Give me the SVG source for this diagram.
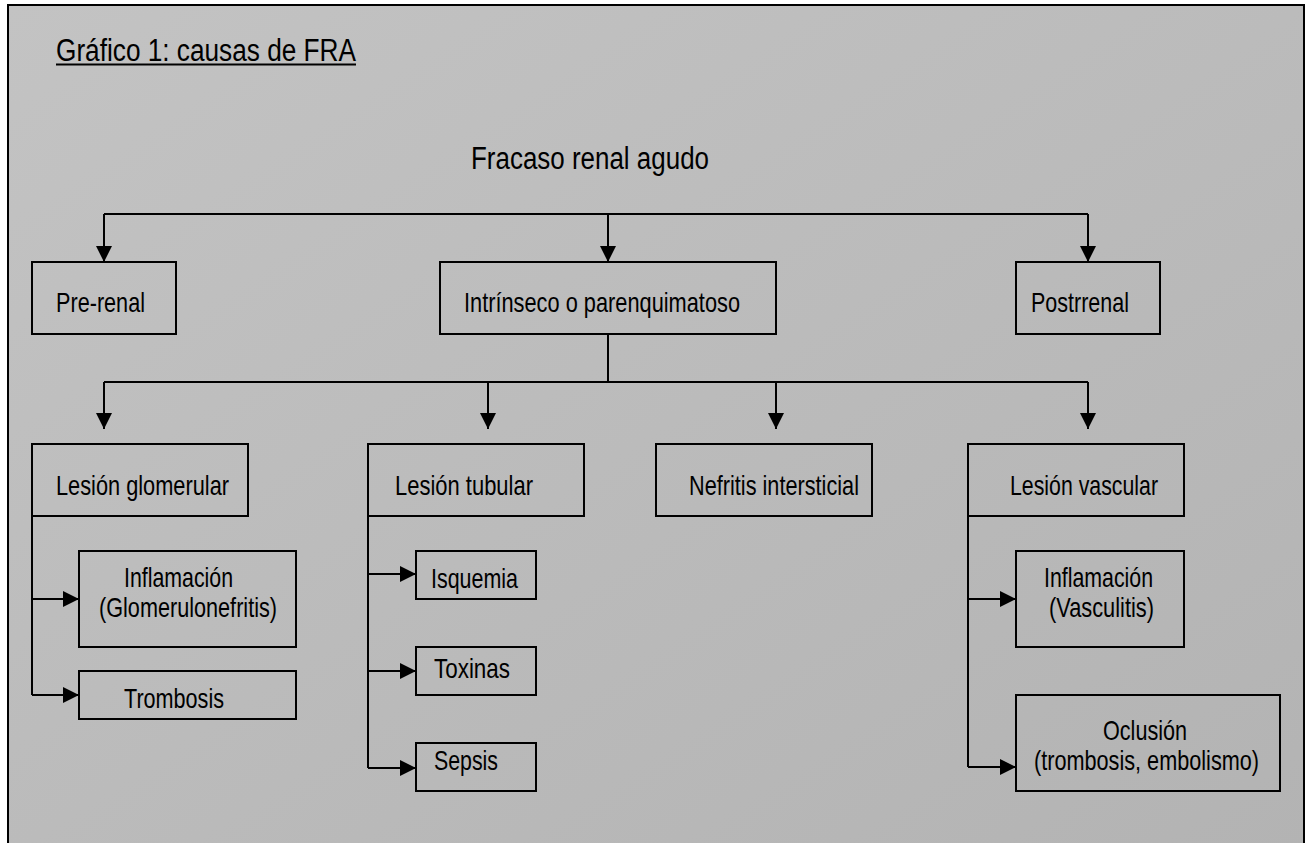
<svg xmlns="http://www.w3.org/2000/svg" width="1310" height="843" viewBox="0 0 1310 843">
  <defs>
    <linearGradient id="panelFill" x1="0" y1="0" x2="1" y2="1">
      <stop offset="0" stop-color="#c3c3c3"/>
      <stop offset="1" stop-color="#b3b3b3"/>
    </linearGradient>
    <marker id="arrow" viewBox="0 0 16 16" refX="16" refY="8" markerWidth="16" markerHeight="16" markerUnits="userSpaceOnUse" orient="auto">
      <path d="M0,0 L16,8 L0,16 z" fill="#000"/>
    </marker>
    <style>
      .box { fill: none; stroke: #000; stroke-width: 2; }
      .lbl { font-family: "Liberation Sans Narrow", "Liberation Sans", Arial, sans-serif; font-size: 28px; fill: #000; }
      .big { font-size: 31px; }
      .link { fill: none; stroke: #000; stroke-width: 2; }
      .arr { fill: none; stroke: #000; stroke-width: 2; marker-end: url(#arrow); }
    </style>
  </defs>

  <rect width="1310" height="843" fill="#fff"/>
  <!-- framed grey panel -->
  <rect x="8" y="5" width="1296" height="850" fill="url(#panelFill)" stroke="#000" stroke-width="2"/>

  <g id="title">
    <text class="lbl big" x="56" y="61" textLength="300" lengthAdjust="spacingAndGlyphs">Gráfico 1: causas de FRA</text>
    <line x1="56" y1="64.5" x2="356" y2="64.5" stroke="#000" stroke-width="2"/>
  </g>

  <g id="root">
    <text class="lbl big" x="471" y="169" textLength="238" lengthAdjust="spacingAndGlyphs">Fracaso renal agudo</text>
  </g>

  <g id="connectors">
    <!-- first level -->
    <path class="link" d="M104,214 H1088"/>
    <path class="arr" d="M104,214 V262"/>
    <path class="arr" d="M608,214 V262"/>
    <path class="arr" d="M1088,214 V262"/>
    <!-- second level -->
    <path class="link" d="M608,334 V382 M104,382 H1088"/>
    <path class="arr" d="M104,382 V429"/>
    <path class="arr" d="M488,382 V429"/>
    <path class="arr" d="M776,382 V429"/>
    <path class="arr" d="M1088,382 V429"/>
    <!-- glomerular branch -->
    <path class="link" d="M32,516 V695"/>
    <path class="arr" d="M32,599 H79"/>
    <path class="arr" d="M32,695 H79"/>
    <!-- tubular branch -->
    <path class="link" d="M368,516 V768"/>
    <path class="arr" d="M368,574 H416"/>
    <path class="arr" d="M368,671 H416"/>
    <path class="arr" d="M368,768 H416"/>
    <!-- vascular branch -->
    <path class="link" d="M968,516 V767"/>
    <path class="arr" d="M968,599 H1016"/>
    <path class="arr" d="M968,767 H1016"/>
  </g>

  <g id="prerenal">
    <rect class="box" x="32" y="262" width="144" height="72"/>
    <text class="lbl" x="56" y="312" textLength="89" lengthAdjust="spacingAndGlyphs">Pre-renal</text>
  </g>
  <g id="intrinseco">
    <rect class="box" x="440" y="262" width="336" height="72"/>
    <text class="lbl" x="464" y="312" textLength="276" lengthAdjust="spacingAndGlyphs">Intrínseco o parenquimatoso</text>
  </g>
  <g id="postrrenal">
    <rect class="box" x="1016" y="262" width="144" height="72"/>
    <text class="lbl" x="1031" y="312" textLength="98" lengthAdjust="spacingAndGlyphs">Postrrenal</text>
  </g>

  <g id="glomerular">
    <rect class="box" x="32" y="444" width="216" height="72"/>
    <text class="lbl" x="56" y="495" textLength="173" lengthAdjust="spacingAndGlyphs">Lesión glomerular</text>
  </g>
  <g id="tubular">
    <rect class="box" x="368" y="444" width="216" height="72"/>
    <text class="lbl" x="395" y="495" textLength="138" lengthAdjust="spacingAndGlyphs">Lesión tubular</text>
  </g>
  <g id="nefritis">
    <rect class="box" x="656" y="444" width="216" height="72"/>
    <text class="lbl" x="689" y="495" textLength="170" lengthAdjust="spacingAndGlyphs">Nefritis intersticial</text>
  </g>
  <g id="vascular">
    <rect class="box" x="968" y="444" width="216" height="72"/>
    <text class="lbl" x="1010" y="495" textLength="148" lengthAdjust="spacingAndGlyphs">Lesión vascular</text>
  </g>

  <g id="glom-inflamacion">
    <rect class="box" x="79" y="551" width="217" height="96"/>
    <text class="lbl" x="124" y="587" textLength="109" lengthAdjust="spacingAndGlyphs">Inflamación</text>
    <text class="lbl" x="99" y="617" textLength="178" lengthAdjust="spacingAndGlyphs">(Glomerulonefritis)</text>
  </g>
  <g id="glom-trombosis">
    <rect class="box" x="79" y="671" width="217" height="48"/>
    <text class="lbl" x="124" y="708" textLength="100" lengthAdjust="spacingAndGlyphs">Trombosis</text>
  </g>

  <g id="isquemia">
    <rect class="box" x="416" y="551" width="120" height="48"/>
    <text class="lbl" x="431" y="588" textLength="87" lengthAdjust="spacingAndGlyphs">Isquemia</text>
  </g>
  <g id="toxinas">
    <rect class="box" x="416" y="647" width="120" height="48"/>
    <text class="lbl" x="434" y="678" textLength="76" lengthAdjust="spacingAndGlyphs">Toxinas</text>
  </g>
  <g id="sepsis">
    <rect class="box" x="416" y="743" width="120" height="48"/>
    <text class="lbl" x="434" y="770" textLength="64" lengthAdjust="spacingAndGlyphs">Sepsis</text>
  </g>

  <g id="vasc-inflamacion">
    <rect class="box" x="1016" y="551" width="168" height="96"/>
    <text class="lbl" x="1044" y="587" textLength="109" lengthAdjust="spacingAndGlyphs">Inflamación</text>
    <text class="lbl" x="1049" y="617" textLength="105" lengthAdjust="spacingAndGlyphs">(Vasculitis)</text>
  </g>
  <g id="vasc-oclusion">
    <rect class="box" x="1016" y="695" width="264" height="96"/>
    <text class="lbl" x="1103" y="740" textLength="84" lengthAdjust="spacingAndGlyphs">Oclusión</text>
    <text class="lbl" x="1034" y="770" textLength="225" lengthAdjust="spacingAndGlyphs">(trombosis, embolismo)</text>
  </g>
</svg>
